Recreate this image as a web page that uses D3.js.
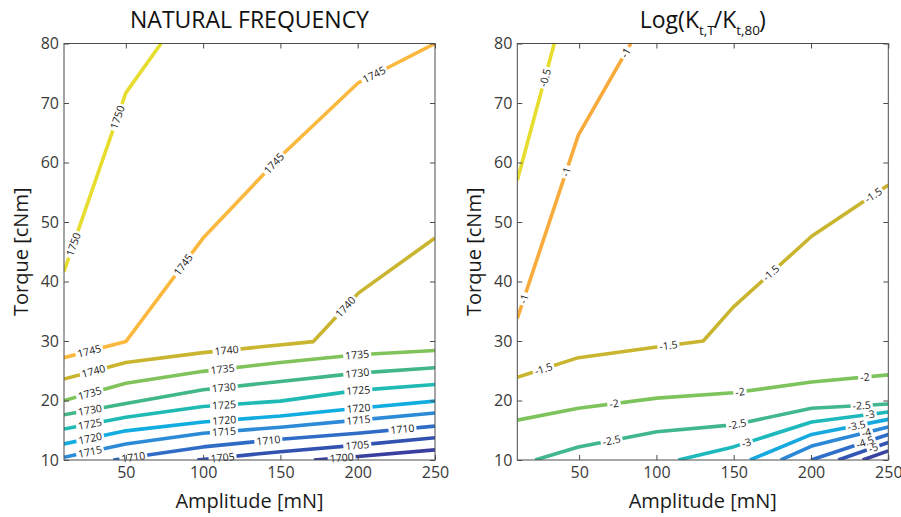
<!DOCTYPE html>
<html>
<head>
<meta charset="utf-8">
<script src="https://cdn.jsdelivr.net/npm/d3@7"></script>
<style>
  html, body { margin: 0; padding: 0; background: #fff; }
  svg { display: block; font-family: "Open Sans", "Noto Sans", sans-serif; }
</style>
</head>
<body>
<svg id="chart" width="901" height="517"></svg>
<script>
// ---------- shared axis data ----------
const xDomain = [10, 250];
const yDomain = [10, 80];
const xTicks = [50, 100, 150, 200, 250];
const yTicks = [10, 20, 30, 40, 50, 60, 70, 80];

// ---------- NATURAL FREQUENCY contours: [amplitude, torque] ----------
const nf1750 = [[10, 41.7], [50, 71.7], [72.8, 80]];
const nf1745 = [[10, 27.2], [50, 29.9], [100, 47.3], [150, 61.0], [200.4, 73.4], [250, 80]];
const nf1740 = [[10, 23.6], [50, 26.4], [100, 28.05], [171.3, 29.9], [200.4, 38.05], [250, 47.3]];
const nf1735 = [[10, 20.0], [50, 22.9], [100, 24.9], [150, 26.4], [200, 27.7], [250, 28.4]];
const nf1730 = [[10, 17.6], [50, 19.5], [100, 21.8], [150, 23.2], [200, 24.6], [250, 25.5]];
const nf1725 = [[10, 15.2], [50, 17.2], [100, 19.0], [150, 19.9], [200, 21.7], [250, 22.7]];
const nf1720 = [[10, 12.7], [50, 14.9], [100, 16.4], [150, 17.4], [200, 18.7], [250, 19.9]];
const nf1715 = [[10, 10.45], [50, 12.7], [100, 14.5], [150, 15.5], [200, 16.7], [250, 17.9]];
const nf1710 = [[41.9, 10], [100, 12.2], [150, 13.5], [200, 14.5], [250, 15.7]];
const nf1705 = [[96.2, 10], [150, 11.4], [200, 12.5], [250, 13.75]];
const nf1700 = [[171.7, 10], [200, 10.6], [250, 11.7]];

const nfLevels = [1750, 1745, 1740, 1735, 1730, 1725, 1720, 1715, 1710, 1705, 1700];
const nfLines  = [nf1750, nf1745, nf1740, nf1735, nf1730, nf1725, nf1720, nf1715, nf1710, nf1705, nf1700];
const nfColors = ["#e6dd2e", "#fbb83f", "#c9b530", "#80c35b", "#41b689", "#1fbab3",
                  "#12ade0", "#2d8ad6", "#306cc6", "#3352b0", "#383f9e"];
// label: [level, amplitude, torque]
const nfLabels = [
  [1750, 45.6, 67.5], [1750, 16.5, 46.2],
  [1745, 210.5, 74.8], [1745, 144.4, 60.2], [1745, 87.2, 42.8], [1745, 26.4, 28.2],
  [1740, 191.8, 35.8], [1740, 115.2, 28.4], [1740, 29, 25.0],
  [1735, 199.7, 27.5], [1735, 112.6, 25.1], [1735, 26.8, 21.1],
  [1730, 199.7, 24.6], [1730, 113.5, 21.9], [1730, 26.8, 18.4],
  [1725, 200.4, 21.6], [1725, 113.5, 19.25], [1725, 26.8, 16.0],
  [1720, 200.4, 19.0], [1720, 113.5, 16.9], [1720, 26.8, 13.8],
  [1715, 200.4, 16.9], [1715, 113.5, 14.8], [1715, 26.8, 11.4],
  [1710, 228.9, 15.3], [1710, 142.2, 13.25], [1710, 54.8, 10.55],
  [1705, 199.7, 12.6], [1705, 112.6, 10.3],
  [1700, 189.6, 10.4]
];

// ---------- Log(Kt,T/Kt,80) contours ----------
const kt05 = [[10, 57.0], [33.9, 80]];
const kt10 = [[10, 33.8], [49.5, 64.6], [83.4, 80]];
const kt15 = [[10, 23.9], [49.5, 27.2], [100.2, 29.0], [130.3, 30.0], [149.7, 35.7], [200.4, 47.6], [250, 56.2]];
const kt20 = [[10, 16.7], [49.5, 18.7], [100.2, 20.4], [149.7, 21.3], [200.4, 23.1], [250, 24.3]];
const kt25 = [[21.5, 10], [49.5, 12.2], [100.2, 14.75], [149.7, 15.9], [200.4, 18.7], [250, 19.4]];
const kt30 = [[114.2, 10], [149.7, 12.2], [200.4, 16.4], [250, 18.06]];
const kt35 = [[160.5, 10], [200.4, 14.3], [250, 16.83]];
const kt40 = [[180.4, 10], [200.4, 12.35], [250, 15.54]];
const kt45 = [[200, 10], [250, 14.28]];
const kt50 = [[217.6, 10], [250, 12.94]];
const kt55 = [[233.4, 10], [250, 11.54]];

const ktLevels = [-0.5, -1, -1.5, -2, -2.5, -3, -3.5, -4, -4.5, -5, -5.5];
const ktLines  = [kt05, kt10, kt15, kt20, kt25, kt30, kt35, kt40, kt45, kt50, kt55];
const ktColors = ["#e6dd2e", "#f7ab3c", "#c9b530", "#7ec45c", "#40b78c", "#1db9bc",
                  "#16a9e0", "#2b88d6", "#2f6ec8", "#3356b3", "#3a42a0"];
const ktLabels = [
  [-0.5, 28.6, 74.2],
  [-1, 79.7, 78.5], [-1, 42, 58.4], [-1, 13.9, 37.1],
  [-1.5, 240.3, 54.5], [-1.5, 174.6, 41.3], [-1.5, 107.7, 29.3], [-1.5, 26.8, 25.4],
  [-2, 234.9, 23.8], [-2, 154, 21.5], [-2, 72.6, 19.35],
  [-2.5, 232.8, 19.1], [-2.5, 151.9, 16.4], [-2.5, 71.1, 13.1],
  [-3, 238.2, 17.6], [-3, 158.4, 12.7],
  [-3.5, 229.6, 15.6],
  [-4, 236, 14.4],
  [-4.5, 235, 12.9],
  [-5, 240.3, 11.96]
];

const svg = d3.select("#chart");
svg.append("rect").attr("width", 901).attr("height", 517).attr("fill", "#fff");

function drawPanel(cfg) {
  const x = d3.scaleLinear().domain(xDomain).range([cfg.x0, cfg.x1]);
  const y = d3.scaleLinear().domain(yDomain).range([cfg.y1, cfg.y0]);
  const g = svg.append("g");

  const clipId = "clip" + cfg.id;
  svg.append("defs").append("clipPath").attr("id", clipId)
    .append("rect").attr("x", cfg.x0).attr("y", cfg.y0)
    .attr("width", cfg.x1 - cfg.x0).attr("height", cfg.y1 - cfg.y0);

  const line = d3.line().x(d => x(d[0])).y(d => y(d[1]));
  const lg = g.append("g").attr("clip-path", `url(#${clipId})`);
  cfg.lines.forEach((pts, i) => {
    lg.append("path").attr("d", line(pts))
      .attr("fill", "none").attr("stroke", cfg.colors[i])
      .attr("stroke-width", 3.6).attr("stroke-linejoin", "round");
  });

  // inline labels
  const labG = g.append("g");
  cfg.labels.forEach(([lev, a, t]) => {
    const idx = cfg.levels.indexOf(lev);
    const pts = cfg.lines[idx].map(p => [x(p[0]), y(p[1])]);
    const px = x(a), py = y(t);
    let best = null;
    for (let k = 0; k < pts.length - 1; k++) {
      const [ax, ay] = pts[k], [bx, by] = pts[k + 1];
      const dx = bx - ax, dy = by - ay;
      let u = ((px - ax) * dx + (py - ay) * dy) / (dx * dx + dy * dy);
      u = Math.max(0, Math.min(1, u));
      const qx = ax + u * dx, qy = ay + u * dy;
      const d = (qx - px) ** 2 + (qy - py) ** 2;
      if (!best || d < best.d) best = { d, qx, qy, ang: Math.atan2(dy, dx) * 180 / Math.PI };
    }
    let ang = best.ang;
    if (ang > 90) ang -= 180;
    if (ang < -90) ang += 180;
    const lab = labG.append("g").attr("transform", `translate(${best.qx},${best.qy}) rotate(${ang})`);
    const rect = lab.append("rect").attr("fill", "#fff");
    const txt = lab.append("text").text(String(lev))
      .attr("text-anchor", "middle").attr("dy", "0.36em")
      .attr("font-size", 10.5).attr("fill", "#1a1a1a");
    const w = txt.node().getComputedTextLength();
    rect.attr("x", -w / 2 - 2).attr("y", -4).attr("width", w + 4).attr("height", 8);
  });

  // axes
  const axColor = "#4d4d4d";
  const styleAxis = sel => {
    sel.selectAll(".domain").remove();
    sel.selectAll(".tick line").attr("stroke", axColor);
    sel.selectAll(".tick text").attr("fill", "#3a3a3a").attr("font-size", 16)
      .attr("font-family", "'Open Sans', sans-serif");
  };
  g.append("g").attr("transform", `translate(0,${cfg.y1})`)
    .call(d3.axisBottom(x).tickValues(xTicks).tickSizeInner(-5).tickSizeOuter(0).tickPadding(7))
    .call(styleAxis);
  g.append("g").attr("transform", `translate(0,${cfg.y0})`)
    .call(d3.axisTop(x).tickValues(xTicks).tickSizeInner(-5).tickSizeOuter(0).tickFormat(""))
    .call(styleAxis);
  g.append("g").attr("transform", `translate(${cfg.x0},0)`)
    .call(d3.axisLeft(y).tickValues(yTicks).tickSizeInner(-5).tickSizeOuter(0).tickPadding(5))
    .call(styleAxis);
  g.append("g").attr("transform", `translate(${cfg.x1},0)`)
    .call(d3.axisRight(y).tickValues(yTicks).tickSizeInner(-5).tickSizeOuter(0).tickFormat(""))
    .call(styleAxis);
  g.append("rect").attr("x", cfg.x0).attr("y", cfg.y0)
    .attr("width", cfg.x1 - cfg.x0).attr("height", cfg.y1 - cfg.y0)
    .attr("fill", "none").attr("stroke", axColor).attr("stroke-width", 1);

  // axis labels
  g.append("text").text("Amplitude [mN]")
    .attr("x", (cfg.x0 + cfg.x1) / 2).attr("y", 508)
    .attr("text-anchor", "middle").attr("font-size", 20).attr("fill", "#1a1a1a");
  g.append("text").text("Torque [cNm]")
    .attr("transform", `translate(${cfg.ylabX},${(cfg.y0 + cfg.y1) / 2}) rotate(-90)`)
    .attr("text-anchor", "middle").attr("dy", "0.35em")
    .attr("font-size", 20).attr("fill", "#1a1a1a");
  return g;
}

const g1 = drawPanel({ id: 1, x0: 64, x1: 435, y0: 43.5, y1: 460, ylabX: 21,
  lines: nfLines, levels: nfLevels, colors: nfColors, labels: nfLabels });
g1.append("text").text("NATURAL FREQUENCY")
  .attr("x", 249.5).attr("y", 28).attr("text-anchor", "middle")
  .attr("font-size", 23).attr("fill", "#111");

const g2 = drawPanel({ id: 2, x0: 517.3, x1: 888.3, y0: 43.5, y1: 460, ylabX: 474,
  lines: ktLines, levels: ktLevels, colors: ktColors, labels: ktLabels });
const title2 = g2.append("text")
  .attr("x", 702.8).attr("y", 28).attr("text-anchor", "middle")
  .attr("font-size", 23).attr("fill", "#111");
title2.append("tspan").text("Log(K");
title2.append("tspan").text("t,T").attr("font-size", 13.5).attr("dy", 7);
title2.append("tspan").text("/K").attr("dy", -7).attr("dx", -1);
title2.append("tspan").text("t,80").attr("font-size", 13.5).attr("dy", 7);
title2.append("tspan").text(")").attr("dy", -7).attr("dx", -1);
</script>
</body>
</html>
